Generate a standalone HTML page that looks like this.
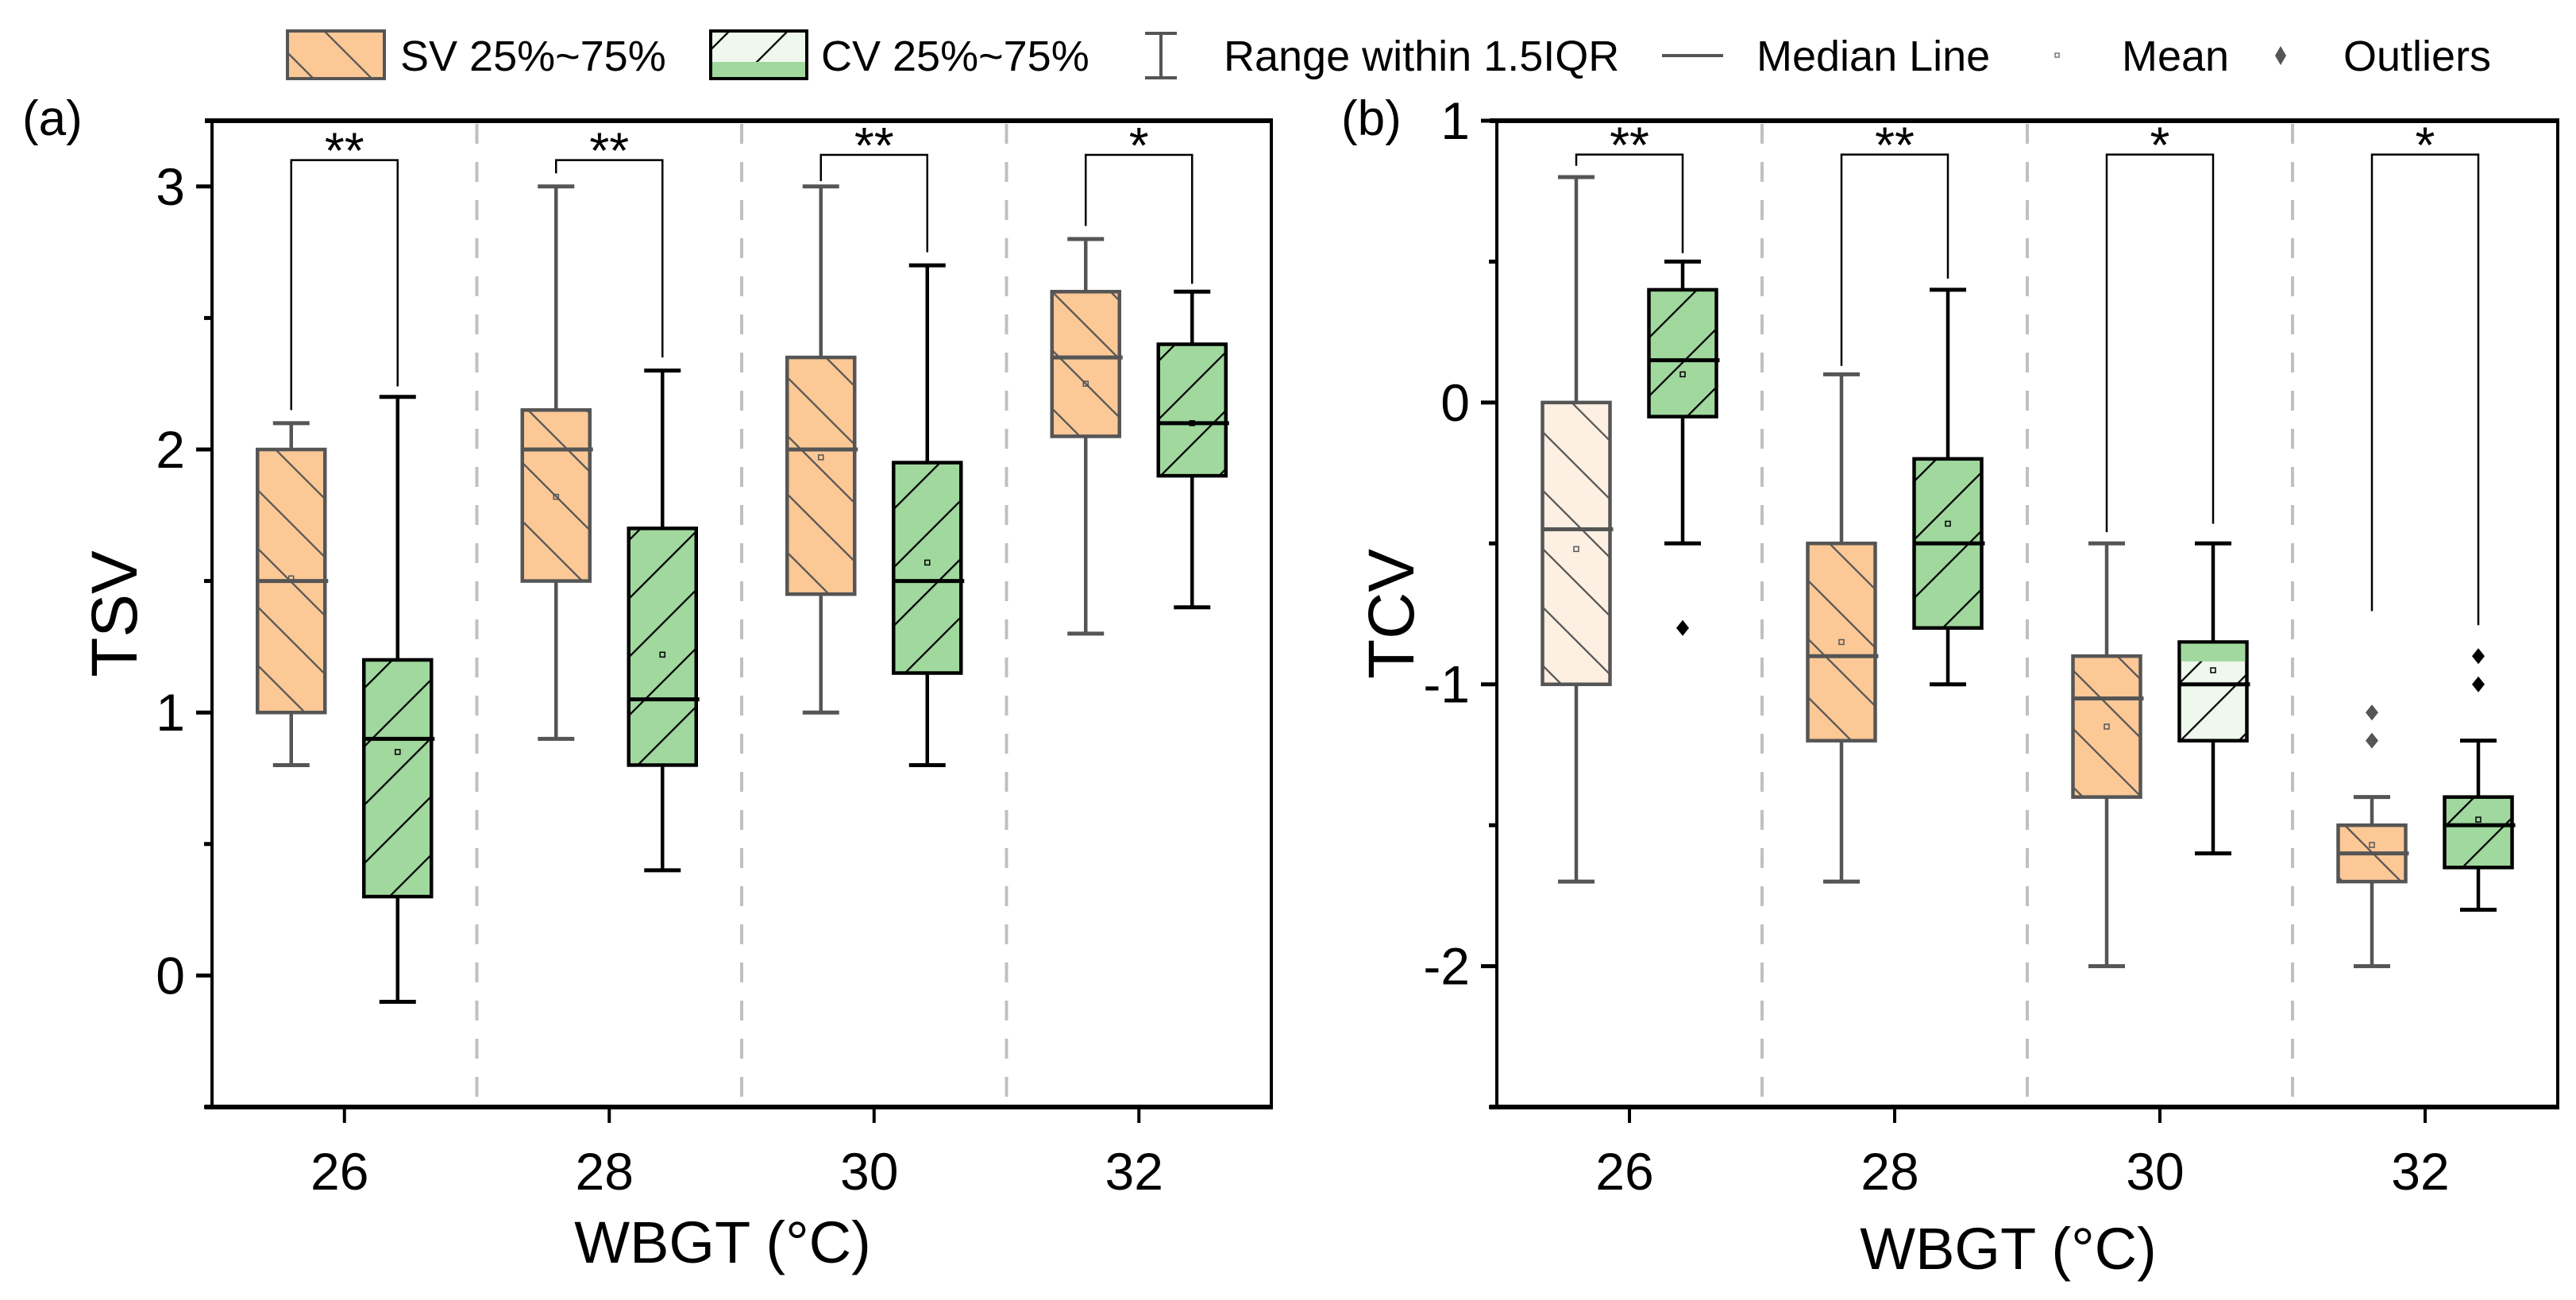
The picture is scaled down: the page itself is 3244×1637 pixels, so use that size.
<!DOCTYPE html>
<html><head><meta charset="utf-8"><style>
html,body{margin:0;padding:0;background:#fff;}
svg{display:block;font-family:"Liberation Sans",Arial,sans-serif;}
</style></head><body>
<svg id="chart" xmlns="http://www.w3.org/2000/svg" width="3244" height="1637" viewBox="0 0 3244 1637">
<defs>
<pattern id="hatchSV" patternUnits="userSpaceOnUse" width="52" height="52" patternTransform="rotate(-45)">
<rect width="52" height="52" fill="#FBC896"/><line x1="0" y1="0" x2="0" y2="52" stroke="#555" stroke-width="4.5"/></pattern>
<pattern id="hatchSVpale" patternUnits="userSpaceOnUse" width="52" height="52" patternTransform="rotate(-45)">
<rect width="52" height="52" fill="#FDF0E3"/><line x1="0" y1="0" x2="0" y2="52" stroke="#555" stroke-width="4.5"/></pattern>
<pattern id="hatchCV" patternUnits="userSpaceOnUse" width="52" height="52" patternTransform="rotate(45)">
<rect width="52" height="52" fill="#A0D89E"/><line x1="0" y1="0" x2="0" y2="52" stroke="#000" stroke-width="4.5"/></pattern>
<pattern id="hatchCVpale" patternUnits="userSpaceOnUse" width="52" height="52" patternTransform="rotate(45)">
<rect width="52" height="52" fill="#EEF8EC"/><line x1="0" y1="0" x2="0" y2="52" stroke="#000" stroke-width="4.5"/></pattern>
</defs>
<g id="legend">
<rect x="362" y="39" width="122" height="60" fill="url(#hatchSV)" stroke="#555" stroke-width="4"/>
<text x="504" y="89" font-size="54">SV 25%~75%</text>
<rect x="895" y="39" width="121" height="60" fill="url(#hatchCVpale)" stroke="#000" stroke-width="4"/>
<rect x="897" y="78" width="117" height="19" fill="#A0D89E"/>
<text x="1034" y="89" font-size="54">CV 25%~75%</text>
<g stroke="#555" stroke-width="4"><line x1="1462" y1="42" x2="1462" y2="98"/><line x1="1442" y1="42" x2="1482" y2="42"/><line x1="1442" y1="98" x2="1482" y2="98"/></g>
<text x="1541" y="89" font-size="54">Range within 1.5IQR</text>
<line x1="2093" y1="70" x2="2170" y2="70" stroke="#555" stroke-width="4"/>
<text x="2212" y="89" font-size="54">Median Line</text>
<rect x="2588" y="67" width="5" height="5" fill="none" stroke="#777" stroke-width="1.5"/>
<text x="2672" y="89" font-size="54">Mean</text>
<path d="M2872 58 L2879 70 L2872 82 L2865 70 Z" fill="#555"/>
<text x="2951" y="89" font-size="54">Outliers</text>
</g>
<g id="plots"></g>
</svg>
<script>
// ---- data ----
const categories = ["26","28","30","32"];
// Panel a (TSV)
const tsvSvMin = [0.8, 0.9, 1.0, 1.3];
const tsvSvQ1 = [1.0, 1.5, 1.45, 2.05];
const tsvSvMed = [1.5, 2.0, 2.0, 2.35];
const tsvSvQ3 = [2.0, 2.15, 2.35, 2.6];
const tsvSvMax = [2.1, 3.0, 3.0, 2.8];
const tsvSvMean = [1.51, 1.82, 1.97, 2.25];
const tsvCvMin = [-0.1, 0.4, 0.8, 1.4];
const tsvCvQ1 = [0.3, 0.8, 1.15, 1.9];
const tsvCvMed = [0.9, 1.05, 1.5, 2.1];
const tsvCvQ3 = [1.2, 1.7, 1.95, 2.4];
const tsvCvMax = [2.2, 2.3, 2.7, 2.6];
const tsvCvMean = [0.85, 1.22, 1.57, 2.1];
const tsvSig = ["**","**","**","*"];
const tsvBracketTop = [3.1, 3.1, 3.12, 3.12];
const tsvBracketLeft = [2.15, 3.05, 3.02, 2.85];
const tsvBracketRight = [2.24, 2.35, 2.75, 2.63];
const tsvTicks = [0, 1, 2, 3];
// Panel b (TCV)
const tcvSvMin = [-1.7, -1.7, -2.0, -2.0];
const tcvSvQ1 = [-1.0, -1.2, -1.4, -1.7];
const tcvSvMed = [-0.45, -0.9, -1.05, -1.6];
const tcvSvQ3 = [0.0, -0.5, -0.9, -1.5];
const tcvSvMax = [0.8, 0.1, -0.5, -1.4];
const tcvSvMean = [-0.52, -0.85, -1.15, -1.57];
const tcvSvOutliers = [[], [], [], [-1.1, -1.2]];
const tcvCvMin = [-0.5, -1.0, -1.6, -1.8];
const tcvCvQ1 = [-0.05, -0.8, -1.2, -1.65];
const tcvCvMed = [0.15, -0.5, -1.0, -1.5];
const tcvCvQ3 = [0.4, -0.2, -0.85, -1.4];
const tcvCvMax = [0.5, 0.4, -0.5, -1.2];
const tcvCvMean = [0.1, -0.43, -0.95, -1.48];
const tcvCvOutliers = [[-0.8], [], [], [-0.9, -1.0]];
const tcvSig = ["**","**","*","*"];
const tcvBracketTop = [0.88, 0.88, 0.88, 0.88];
const tcvBracketLeft = [0.84, 0.13, -0.46, -0.74];
const tcvBracketRight = [0.53, 0.44, -0.43, -0.79];
const tcvTicks = [-2, -1, 0, 1];

const NS = "http://www.w3.org/2000/svg";
const root = document.getElementById("plots");
function mk(tag, attrs, parent) {
  const e = document.createElementNS(NS, tag);
  for (const k in attrs) e.setAttribute(k, attrs[k]);
  (parent || root).appendChild(e);
  return e;
}

function drawPanel(p) {
  const g = mk("g", {});
  
  
  const yScale = v => p.yBot - (v - p.dMin) / (p.dMax - p.dMin) * (p.yBot - p.yTop);
  const bandW = (p.x1 - p.x0) / categories.length;
  const xScale = i => p.x0 + (i + 0.5) * bandW;
  const off = 67, bw = 85, cap = 46;

  for (let i = 1; i < categories.length; i++) {
    const x = p.x0 + i * bandW;
    const l = mk("line", {x1:x, y1:p.yTop+4, x2:x, y2:p.yBot+6, stroke:"#c0c0c0", "stroke-width":4, "stroke-dasharray":"25 23"}, g);
    
    
  }

  function box(i, s, kind) {
    const cx = xScale(i) + (kind === "sv" ? -off : off);
    const col = kind === "sv" ? "#555" : "#000";
    const bg = mk("g", {}, g);
    
    
    mk("line", {x1:cx, y1:yScale(s.max[i]), x2:cx, y2:yScale(s.q3[i]), stroke:col, "stroke-width":4.5}, bg);
    mk("line", {x1:cx, y1:yScale(s.q1[i]), x2:cx, y2:yScale(s.min[i]), stroke:col, "stroke-width":4.5}, bg);
    mk("line", {x1:cx-cap/2, y1:yScale(s.max[i]), x2:cx+cap/2, y2:yScale(s.max[i]), stroke:col, "stroke-width":5}, bg);
    mk("line", {x1:cx-cap/2, y1:yScale(s.min[i]), x2:cx+cap/2, y2:yScale(s.min[i]), stroke:col, "stroke-width":5}, bg);
    const top = yScale(s.q3[i]), bot = yScale(s.q1[i]);
    const fill = (s.pale && s.pale[i]) ? (kind === "sv" ? "url(#hatchSVpale)" : "url(#hatchCVpale)") : (kind === "sv" ? "url(#hatchSV)" : "url(#hatchCV)");
    mk("rect", {x:cx-bw/2, y:top, width:bw, height:bot-top, fill:fill, stroke:col, "stroke-width":4.5}, bg);
    if (s.pale && s.pale[i] && kind === "cv") {
      mk("rect", {x:cx-bw/2+2, y:top+2, width:bw-4, height:(bot-top)*0.18, fill:"#A0D89E"}, bg);
    }
    const m = yScale(s.med[i]);
    const ml = mk("line", {x1:cx-bw/2, y1:m, x2:cx+bw/2+4, y2:m, stroke:col, "stroke-width":5}, bg);
    
    
    const mn = mk("rect", {x:cx-3, y:yScale(s.mean[i])-3, width:6, height:6, fill:"none", stroke:col, "stroke-width":1.5}, bg);
    
    
    if (s.out) s.out[i].forEach(v => {
      const y = yScale(v);
      const d = mk("path", {d:`M${cx} ${y-10} L${cx+8} ${y} L${cx} ${y+10} L${cx-8} ${y} Z`, fill:col}, bg);
      
      
    });
  }
  for (let i = 0; i < categories.length; i++) { box(i, p.sv, "sv"); box(i, p.cv, "cv"); }

  for (let i = 0; i < categories.length; i++) {
    const xl = xScale(i) - off, xr = xScale(i) + off, yt = yScale(p.bTop[i]);
    const b = mk("path", {d:`M${xl} ${yScale(p.bLeft[i])} L${xl} ${yt} L${xr} ${yt} L${xr} ${yScale(p.bRight[i])}`, fill:"none", stroke:"#000", "stroke-width":2.5}, g);
    
    
    const t = mk("text", {x:(xl+xr)/2, y:yt+10, "font-size":64, "text-anchor":"middle"}, g);
    t.textContent = p.sig[i];
    
    
  }

  const fr = mk("rect", {x:p.x0, y:p.yTop, width:p.x1-p.x0, height:p.yBot-p.yTop, fill:"none", stroke:"#000", "stroke-width":4}, g);
  
  
  mk("line", {x1:p.x0-9, y1:p.yBot, x2:p.x1+2, y2:p.yBot, stroke:"#000", "stroke-width":6}, g);
  mk("line", {x1:p.x0-9, y1:p.yTop, x2:p.x1+2, y2:p.yTop, stroke:"#000", "stroke-width":6}, g);

  for (let v = p.dMin; v <= p.dMax + 1e-9; v += 0.5) {
    const y = yScale(v);
    const major = p.ticks.includes(Math.round(v*2)/2);
    mk("line", {x1:p.x0 - (major ? 20 : 10), y1:y, x2:p.x0, y2:y, stroke:"#000", "stroke-width":5}, g);
  }
  p.ticks.forEach(v => {
    const t = mk("text", {x:p.x0-34, y:yScale(v)+23, "font-size":66, "text-anchor":"end"}, g);
    t.textContent = v < 0 ? "-" + Math.abs(v) : String(v);
    
    
  });
  categories.forEach((c, i) => {
    const x = xScale(i);
    mk("line", {x1:x, y1:p.yBot, x2:x, y2:p.yBot+20, stroke:"#000", "stroke-width":4}, g);
    const t = mk("text", {x:x-6, y:1498, "font-size":66, "text-anchor":"middle"}, g);
    t.textContent = c;
    
    
  });
  const xt = mk("text", {x:(p.x0+p.x1)/2 - 24, y:p.xTitleY, "font-size":74, "text-anchor":"middle"}, g);
  xt.textContent = "WBGT (°C)";
  
  
  const yt = mk("text", {x:0, y:0, "font-size":82, "text-anchor":"middle", transform:`translate(${p.yTitleX},${(p.yTop+p.yBot)/2}) rotate(-90)`}, g);
  yt.textContent = p.yTitle;
  
  
  const pl = mk("text", {x:p.labelX, y:170, "font-size":62}, g);
  pl.textContent = p.label;
  
  
}

drawPanel({name:"panel-a-tsv", x0:267, x1:1601, yTop:152, yBot:1394, dMin:-0.5, dMax:3.25, ticks:tsvTicks,
  sv:{min:tsvSvMin,q1:tsvSvQ1,med:tsvSvMed,q3:tsvSvQ3,max:tsvSvMax,mean:tsvSvMean},
  cv:{min:tsvCvMin,q1:tsvCvQ1,med:tsvCvMed,q3:tsvCvQ3,max:tsvCvMax,mean:tsvCvMean},
  sig:tsvSig,bTop:tsvBracketTop,bLeft:tsvBracketLeft,bRight:tsvBracketRight,
  yTitle:"TSV", yTitleX:172, xTitleY:1590, label:"(a)", labelX:28});
drawPanel({name:"panel-b-tcv", x0:1885, x1:3221, yTop:152, yBot:1394, dMin:-2.5, dMax:1, ticks:tcvTicks,
  sv:{min:tcvSvMin,q1:tcvSvQ1,med:tcvSvMed,q3:tcvSvQ3,max:tcvSvMax,mean:tcvSvMean,out:tcvSvOutliers,pale:[true,false,false,false]},
  cv:{min:tcvCvMin,q1:tcvCvQ1,med:tcvCvMed,q3:tcvCvQ3,max:tcvCvMax,mean:tcvCvMean,out:tcvCvOutliers,pale:[false,false,true,false]},
  sig:tcvSig,bTop:tcvBracketTop,bLeft:tcvBracketLeft,bRight:tcvBracketRight,
  yTitle:"TCV", yTitleX:1780, xTitleY:1598, label:"(b)", labelX:1689});
</script>
</body></html>
